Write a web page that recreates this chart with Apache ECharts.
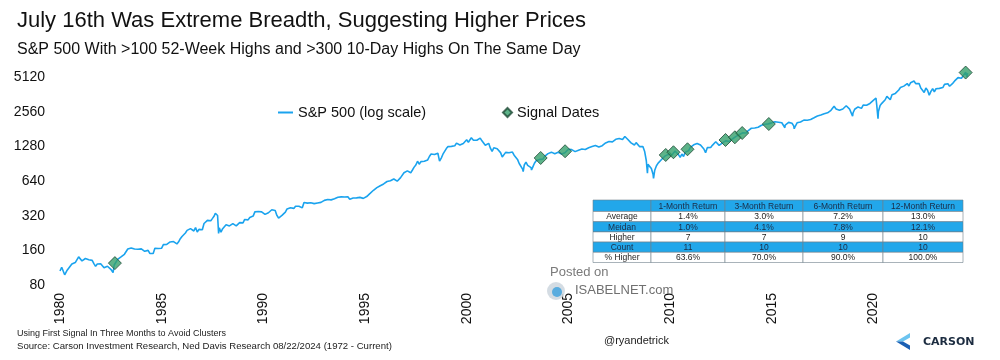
<!DOCTYPE html>
<html><head><meta charset="utf-8">
<script src="https://cdn.jsdelivr.net/npm/echarts@6/dist/echarts.min.js"></script>
<style>html,body{margin:0;padding:0;background:#fff}#c{width:1000px;height:360px}</style>
</head><body><div id="c"></div>
<script>
// ---------- DATA ----------
const startYear = 1980; // monthly closes start Jan 1980
const spxMonthly = [
114.16,113.66,102.09,106.29,111.24,114.24,121.67,122.38,125.46,127.47,140.52,135.76,
129.55,131.27,136.00,132.81,132.59,131.21,130.92,122.79,116.18,121.89,126.35,122.55,
120.40,113.11,111.96,116.44,111.88,109.61,107.09,119.51,120.42,133.71,138.54,140.64,
145.30,148.06,152.96,164.42,162.39,168.11,162.56,164.40,166.07,163.55,166.40,164.93,
163.41,157.06,159.18,160.05,150.55,153.18,150.66,166.68,166.10,166.09,163.58,167.24,
179.63,181.18,180.66,179.83,189.55,191.85,190.92,188.63,182.08,189.82,202.17,211.28,
211.78,226.92,238.90,235.52,247.35,250.84,236.12,252.93,231.32,243.98,249.22,242.17,
274.08,284.20,291.70,288.36,290.10,304.00,318.66,329.80,321.83,251.79,230.30,247.08,
257.07,267.82,258.89,261.33,262.16,273.50,272.02,261.52,271.91,278.97,273.70,277.72,
297.47,288.86,294.87,309.64,320.52,317.98,346.08,351.45,349.15,340.36,345.99,353.40,
329.08,331.89,339.94,330.80,361.23,358.02,356.15,322.56,306.05,304.00,322.22,330.22,
343.93,367.07,375.22,375.35,389.83,371.16,387.81,395.43,387.86,392.46,375.22,417.09,
408.79,412.70,403.69,414.95,415.35,408.14,424.21,414.03,417.80,418.68,431.35,435.71,
438.78,443.38,451.67,440.19,450.19,450.53,448.13,463.56,458.93,467.83,461.79,466.45,
481.61,467.14,445.77,450.91,456.50,444.27,458.26,475.49,462.69,472.35,453.69,459.27,
470.42,487.39,500.71,514.71,533.40,544.75,562.06,561.88,584.41,581.50,605.37,615.93,
636.02,640.43,645.50,654.17,669.12,670.63,639.95,651.99,687.31,705.27,757.02,740.74,
786.16,790.82,757.12,801.34,848.28,885.14,954.29,899.47,947.28,914.62,955.40,970.43,
980.28,1049.34,1101.75,1111.75,1090.82,1133.84,1120.67,957.28,1017.01,1098.67,1163.63,1229.23,
1279.64,1238.33,1286.37,1335.18,1301.84,1372.71,1328.72,1320.41,1282.71,1362.93,1388.91,1469.25,
1394.46,1366.42,1498.58,1452.43,1420.60,1454.60,1430.83,1517.68,1436.51,1429.40,1314.95,1320.28,
1366.01,1239.94,1160.33,1249.46,1255.82,1224.42,1211.23,1133.58,1040.94,1059.78,1139.45,1148.08,
1130.20,1106.73,1147.39,1076.92,1067.14,989.82,911.62,916.07,815.28,885.76,936.31,879.82,
855.70,841.15,848.18,916.92,963.59,974.50,990.31,1008.01,995.97,1050.71,1058.20,1111.92,
1131.13,1144.94,1126.21,1107.30,1120.68,1140.84,1101.72,1104.24,1114.58,1130.20,1173.82,1211.92,
1181.27,1203.60,1180.59,1156.85,1191.50,1191.33,1234.18,1220.33,1228.81,1207.01,1249.48,1248.29,
1280.08,1280.66,1294.83,1310.61,1270.09,1270.20,1276.66,1303.82,1335.85,1377.94,1400.63,1418.30,
1438.24,1406.82,1420.86,1482.37,1530.62,1503.35,1455.27,1473.99,1526.75,1549.38,1481.14,1468.36,
1378.55,1330.63,1322.70,1385.59,1400.38,1280.00,1267.38,1282.83,1166.36,968.75,896.24,903.25,
825.88,735.09,797.87,872.81,919.14,919.32,987.48,1020.62,1057.08,1036.19,1095.63,1115.10,
1073.87,1104.49,1169.43,1186.69,1089.41,1030.71,1101.60,1049.33,1141.20,1183.26,1180.55,1257.64,
1286.12,1327.22,1325.83,1363.61,1345.20,1320.64,1292.28,1218.89,1131.42,1253.30,1246.96,1257.60,
1312.41,1365.68,1408.47,1397.91,1310.33,1362.16,1379.32,1406.58,1440.67,1412.16,1416.18,1426.19,
1498.11,1514.68,1569.19,1597.57,1630.74,1606.28,1685.73,1632.97,1681.55,1756.54,1805.81,1848.36,
1782.59,1859.45,1872.34,1883.95,1923.57,1960.23,1930.67,2003.37,1972.29,2018.05,2067.56,2058.90,
1994.99,2104.50,2067.89,2085.51,2107.39,2063.11,2103.84,1972.18,1920.03,2079.36,2080.41,2043.94,
1940.24,1932.23,2059.74,2065.30,2096.95,2098.86,2173.60,2170.95,2168.27,2126.15,2198.81,2238.83,
2278.87,2363.64,2362.72,2384.20,2411.80,2423.41,2470.30,2471.65,2519.36,2575.26,2647.58,2673.61,
2823.81,2713.83,2640.87,2648.05,2705.27,2718.37,2816.29,2901.52,2913.98,2711.74,2760.17,2506.85,
2704.10,2784.49,2834.40,2945.83,2752.06,2941.76,2980.38,2926.46,2976.74,3037.56,3140.98,3230.78,
3225.52,2954.22,2584.59,2912.43,3044.31,3100.29,3271.12,3500.31,3363.00,3269.96,3621.63,3756.07,
3714.24,3811.15,3972.89,4181.17,4204.11,4297.50,4395.26,4522.68,4307.54,4605.38,4567.00,4766.18,
4515.55,4373.94,4530.41,4131.93,4132.15,3785.38,4130.29,3955.00,3585.62,3871.98,4080.11,3839.50,
4076.60,3970.15,4109.31,4169.48,4179.83,4450.38,4588.96,4507.66,4288.05,4193.80,4567.80,4769.83,
4845.65,5096.27,5254.35,5035.69,5277.51,5460.48,5522.30
];
// intra-month turning points [decimal year, close]
const spxExtremes = [
[1980.00,105.8],[1980.23,98.2],[1982.61,102.4],[1987.64,336.8],[1987.80,224.8],
[1990.78,295.5],[2000.23,1527],[2002.78,776.8],[2003.19,800.7],[2007.78,1565],
[2008.89,752],[2009.19,676.5],[2010.51,1022.6],[2011.76,1099],[2015.65,1867],
[2016.11,1829],[2018.07,2872],[2018.98,2351],[2020.13,3386],[2020.23,2237],
[2022.01,4797],[2022.78,3577],[2024.54,5667],[2024.60,5186],[2024.64,5570]
];
const signalDates  = [1982.70, 2003.64, 2004.84, 2009.79, 2010.17, 2010.86, 2012.73, 2013.19, 2013.55, 2014.86, 2024.54];
const signalValues = [124, 1019, 1166, 1082, 1143, 1213, 1461, 1542, 1680, 2012, 5640];

const yTickLabels = ['80','160','320','640','1280','2560','5120'];
const xTickYears  = [1980,1985,1990,1995,2000,2005,2010,2015,2020];

const tableHeader    = ['', '1-Month Return', '3-Month Return', '6-Month Return', '12-Month Return'];
const tableRowLabels = ['Average', 'Meidan', 'Higher', 'Count', '% Higher'];
const tableValues = [
  ['1.4%', '3.0%', '7.2%', '13.0%'],
  ['1.0%', '4.1%', '7.8%', '12.1%'],
  ['7', '7', '9', '10'],
  ['11', '10', '10', '10'],
  ['63.6%', '70.0%', '90.0%', '100.0%']
];
const highlightedRows = [1, 3];

// ---------- BUILD ----------
const yBase = 80;
const toAxis = v => Math.log2(v / yBase);
const monthlyPoints = spxMonthly.map((v, i) => [startYear + (i + 1) / 12, v]);
const linePoints = monthlyPoints.concat(spxExtremes).sort((a, b) => a[0] - b[0]).map(p => [p[0], toAxis(p[1])]);
const signalPoints = signalDates.map((d, i) => [d, toAxis(signalValues[i])]);

const FONT = "'Liberation Sans', Arial, Helvetica, sans-serif";
const BLUE = '#1aa3ee';
const TBLUE = '#22a7ea';

function txt(text, x, y, size, color, opts) {
  opts = opts || {};
  return {
    type: 'text', z: 100,
    style: Object.assign({
      text: text, x: x, y: y, fill: color,
      font: (opts.weight ? opts.weight + ' ' : '') + size + 'px ' + (opts.family || FONT),
      textAlign: opts.align || 'left', align: opts.align || 'left',
      textVerticalAlign: 'middle', verticalAlign: 'middle'
    }, opts.extra || {})
  };
}

const graphics = [];
graphics.push(txt('July 16th Was Extreme Breadth, Suggesting Higher Prices', 17, 21, 22, '#111'));
graphics.push(txt('S&P 500 With >100 52-Week Highs and >300 10-Day Highs On The Same Day', 17, 50, 16, '#111'));
graphics.push(txt('Using First Signal In Three Months to Avoid Clusters', 17, 334, 9, '#222'));
graphics.push(txt('Source: Carson Investment Research, Ned Davis Research 08/22/2024 (1972 - Current)', 17, 346, 9.6, '#222'));
graphics.push(txt('@ryandetrick', 604, 341, 11, '#222'));
// watermark
graphics.push(txt('Posted on', 550, 272, 13, '#7a7a7a'));
graphics.push({type: 'circle', z: 99, shape: {cx: 556, cy: 291, r: 9}, style: {fill: '#cfd8e0', opacity: 0.9}});
graphics.push({type: 'circle', z: 99, shape: {cx: 557, cy: 292, r: 5}, style: {fill: '#4aa6de', opacity: 0.9}});
graphics.push(txt('ISABELNET.com', 575, 290, 13, '#707070'));
// carson logo
graphics.push({type: 'polygon', z: 100, shape: {points: [[910,333],[896,341.5],[903,341.5],[910,337.5]]}, style: {fill: '#6cc4f0'}});
graphics.push({type: 'polygon', z: 100, shape: {points: [[896,341.5],[910,350],[910,345.5],[903,341.5]]}, style: {fill: '#1a5fb4'}});
graphics.push(txt('CARSON', 923, 342, 11, '#1c2c40', {weight: 600, family: "'DejaVu Sans', sans-serif"}));

// table
const colX = [593, 651, 725, 803, 883, 963];
const rowY = [200, 211.5];
for (let r = 0; r < tableRowLabels.length; r++) rowY.push(rowY[rowY.length - 1] + 10.2);
const tableRows = [tableHeader].concat(tableRowLabels.map((l, i) => [l].concat(tableValues[i])));
tableRows.forEach((row, r) => {
  const blue = r === 0 || highlightedRows.indexOf(r - 1) >= 0;
  const y0 = rowY[r], h = rowY[r + 1] - rowY[r];
  row.forEach((cell, c) => {
    const x0 = colX[c], w = colX[c + 1] - colX[c];
    graphics.push({type: 'rect', z: 90, shape: {x: x0, y: y0, width: w, height: h},
      style: {fill: blue ? TBLUE : '#fff', stroke: '#6f7f8c', lineWidth: 0.6}});
    if (cell) graphics.push(txt(cell, x0 + w / 2, y0 + h / 2 + 0.5, 8.5, blue ? '#1b2b45' : '#222', {align: 'center'}));
  });
});

const chart = echarts.init(document.getElementById('c'));
chart.setOption({
  animation: false,
  backgroundColor: '#fff',
  grid: {left: 60, right: 25, top: 67, bottom: 75, containLabel: false},
  legend: [
    {data: [{name: 'S&P 500 (log scale)', icon: 'rect'}], left: 273, top: 100, itemWidth: 15, itemHeight: 2, itemGap: 5,
     textStyle: {fontSize: 14.5, color: '#111', fontFamily: FONT}},
    {data: [{name: 'Signal Dates', icon: 'diamond'}], left: 497, top: 100, itemWidth: 9, itemHeight: 9,
     textStyle: {fontSize: 14.5, color: '#111', fontFamily: FONT}}
  ],
  xAxis: {
    type: 'value', min: 1980, max: 2025, interval: 5,
    axisLine: {show: false}, axisTick: {show: false}, splitLine: {show: false},
    axisLabel: {rotate: 90, margin: 8, fontSize: 14, color: '#111', fontFamily: FONT, showMaxLabel: false,
      formatter: v => xTickYears.indexOf(v) >= 0 ? String(v) : ''}
  },
  yAxis: {
    type: 'value', min: 0, max: 6.3, interval: 1,
    axisLine: {show: false}, axisTick: {show: false}, splitLine: {show: false},
    axisLabel: {margin: 15, fontSize: 14, color: '#111', fontFamily: FONT, showMaxLabel: false,
      formatter: v => (Number.isInteger(v) && yTickLabels[v]) ? yTickLabels[v] : ''}
  },
  series: [
    {name: 'S&P 500 (log scale)', type: 'line', data: linePoints, showSymbol: false, symbol: 'none',
     color: BLUE, lineStyle: {color: BLUE, width: 1.6}, z: 2},
    {name: 'Signal Dates', type: 'scatter', data: signalPoints, symbol: 'diamond', symbolSize: 13,
     itemStyle: {color: '#35a06c', borderColor: '#1f4a36', borderWidth: 1}, z: 3}
  ],
  graphic: graphics
});
</script>
</body></html>
